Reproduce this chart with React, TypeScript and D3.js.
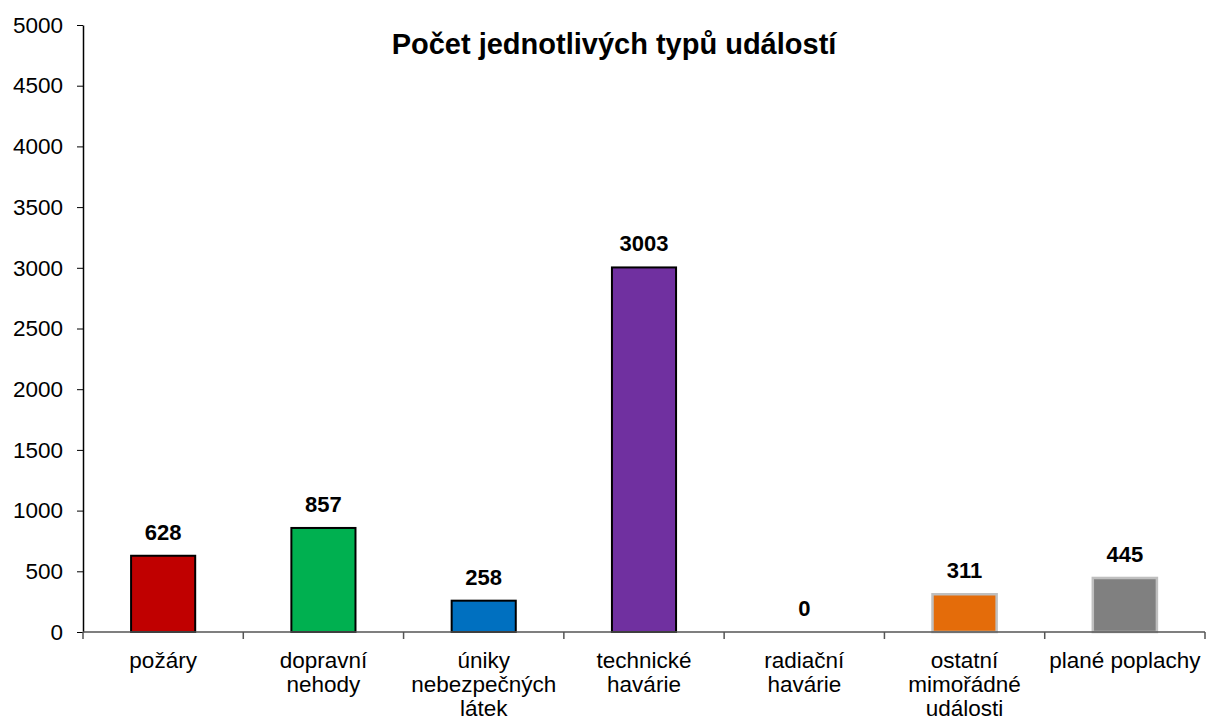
import * as d3 from "d3";
import { useEffect, useRef } from "react";

const categories = [
  ["požáry"],
  ["dopravní", "nehody"],
  ["úniky", "nebezpečných", "látek"],
  ["technické", "havárie"],
  ["radiační", "havárie"],
  ["ostatní", "mimořádné", "události"],
  ["plané poplachy"],
];
const values = [628, 857, 258, 3003, 0, 311, 445];
const colors = ["#C00000", "#00B050", "#0070C0", "#7030A0", "#7F7F7F", "#E46C0A", "#808080"];
const borders = ["#000", "#000", "#000", "#000", "#000", "#BFBFBF", "#BFBFBF"];
const yTicks = [0, 500, 1000, 1500, 2000, 2500, 3000, 3500, 4000, 4500, 5000];
const title = "Počet jednotlivých typů událostí";

export default function App() {
  const svgRef = useRef<SVGSVGElement>(null);

  useEffect(() => {
    if (!svgRef.current) return;
    const svg = d3.select(svgRef.current);
    svg.selectAll("*").remove();

    const width = 1208;
    const height = 722;
    const margin = { top: 25, right: 3, bottom: 90, left: 83 };
    const font = "Liberation Sans, Arial, sans-serif";

    const x = d3
      .scaleBand<number>()
      .domain(d3.range(values.length))
      .range([margin.left, width - margin.right])
      .paddingInner(0.6)
      .paddingOuter(0.3);
    const bandStep = (width - margin.right - margin.left) / values.length;
    const y = d3.scaleLinear().domain([0, 5000]).range([height - margin.bottom, margin.top]);

    const g = svg.append("g");

    // bars
    g.selectAll(".bar")
      .data(values)
      .enter()
      .append("rect")
      .attr("x", (d, i) => x(i)!)
      .attr("y", (d) => y(d))
      .attr("width", x.bandwidth())
      .attr("height", (d) => y(0) - y(d))
      .style("fill", (d, i) => colors[i])
      .style("stroke", (d, i) => borders[i])
      .style("stroke-width", (d, i) => (i >= 5 ? 2.5 : 2))
      .style("display", (d) => (d === 0 ? "none" : null));

    // value labels
    g.selectAll(".val")
      .data(values)
      .enter()
      .append("text")
      .attr("x", (d, i) => x(i)! + x.bandwidth() / 2)
      .attr("y", (d) => y(d) - 16)
      .attr("text-anchor", "middle")
      .style("font-family", font)
      .style("font-size", "22px")
      .style("font-weight", "bold")
      .text((d) => d);

    // y axis
    const yAxis = g
      .append("g")
      .attr("transform", `translate(${margin.left},0)`)
      .call(
        d3
          .axisLeft(y)
          .tickValues(yTicks)
          .tickFormat(d3.format("d"))
          .tickSize(6)
          .tickPadding(14)
          .tickSizeOuter(0),
      );
    yAxis.select(".domain").style("stroke", "#000").style("stroke-width", 1.5);
    yAxis.selectAll(".tick line").style("stroke", "#000");
    yAxis
      .selectAll(".tick text")
      .style("font-family", font)
      .style("font-size", "22.5px")
      .style("fill", "#000");

    // x axis
    const base = y(0);
    g.append("line")
      .attr("x1", margin.left)
      .attr("x2", width - margin.right)
      .attr("y1", base)
      .attr("y2", base)
      .style("stroke", "#555")
      .style("stroke-width", 1.5);
    g.selectAll(".xtick")
      .data(d3.range(values.length + 1))
      .enter()
      .append("line")
      .attr("x1", (d) => margin.left + d * bandStep)
      .attr("x2", (d) => margin.left + d * bandStep)
      .attr("y1", base)
      .attr("y2", base + 7)
      .style("stroke", "#555")
      .style("stroke-width", 1.5);

    // category labels
    const labels = g
      .selectAll(".cat")
      .data(categories)
      .enter()
      .append("text")
      .attr("text-anchor", "middle")
      .style("font-family", font)
      .style("font-size", "22.5px")
      .attr("x", (d, i) => x(i)! + x.bandwidth() / 2)
      .attr("y", base + 36);
    labels
      .selectAll("tspan")
      .data((d) => d)
      .enter()
      .append("tspan")
      .attr("x", function () {
        return (this as SVGTSpanElement).parentElement!.getAttribute("x");
      })
      .attr("dy", (d, i) => (i === 0 ? 0 : 24))
      .text((d) => d);

    // title
    g.append("text")
      .attr("x", 614)
      .attr("y", 54)
      .attr("text-anchor", "middle")
      .style("font-family", font)
      .style("font-size", "29px")
      .style("font-weight", "bold")
      .text(title);
  }, []);

  return (
    <svg
      ref={svgRef}
      width={1208}
      height={722}
      style={{ position: "absolute", left: 0, top: 0, background: "#fff" }}
    ></svg>
  );
}
